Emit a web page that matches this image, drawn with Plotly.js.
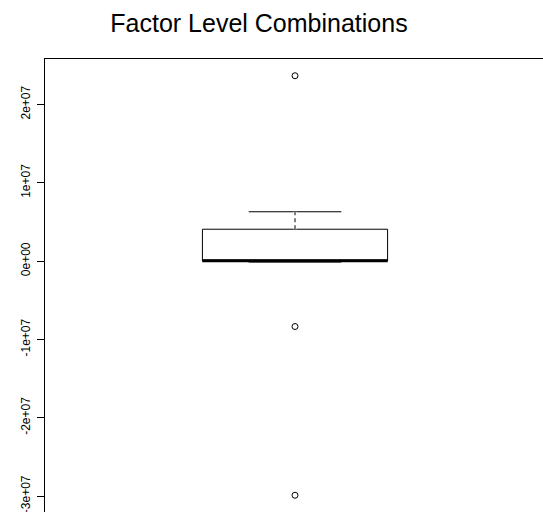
<!DOCTYPE html>
<html>
<head>
<meta charset="utf-8">
<script src="https://cdn.plot.ly/plotly-3.0.1.min.js"></script>
<style>
html, body { margin: 0; padding: 0; overflow: hidden; background: #fff; }
#chart { width: 600px; height: 530px; }
</style>
</head>
<body>
<div id="chart"></div>
<script>
// Data
const boxPosition = [1];
const q1 = [0];
const median = [5e4];
const q3 = [4.07e6];
const lowerFence = [-1.2e5];
const upperFence = [6.30e6];
const outliers = [2.366e7, -8.35e6, -2.989e7];
const tickValues = [-3e7, -2e7, -1e7, 0, 1e7, 2e7];
const tickLabels = ["-3e+07", "-2e+07", "-1e+07", "0e+00", "1e+07", "2e+07"];
const chartTitle = "Factor Level Combinations";

const boxWidth = 0.4;
const font = "Liberation Sans, Arial, Helvetica, sans-serif";

const traces = [
  {
    type: "box",
    x: boxPosition,
    q1: q1, median: median, q3: q3,
    lowerfence: lowerFence, upperfence: upperFence,
    width: boxWidth,
    whiskerwidth: 0.5,
    boxpoints: false,
    fillcolor: "rgba(255,255,255,0)",
    line: { color: "#000", width: 1 },
    hoverinfo: "skip",
    showlegend: false
  },
  {
    type: "scatter",
    mode: "markers",
    x: outliers.map(() => boxPosition[0]),
    y: outliers,
    marker: { symbol: "circle-open", size: 6, color: "#000", line: { width: 1, color: "#000" } },
    hoverinfo: "skip",
    showlegend: false
  }
];

const c = boxPosition[0];
const shapes = [
  // mask the solid upper whisker, then draw it dashed
  { type: "line", xref: "x", yref: "y", x0: c, x1: c, y0: q3[0], y1: upperFence[0],
    line: { color: "#fff", width: 3 }, layer: "above" },
  { type: "line", xref: "x", yref: "y", x0: c, x1: c, y0: q3[0], y1: upperFence[0],
    line: { color: "#000", width: 1, dash: "4px,3px" }, layer: "above" },
  // thick median
  { type: "line", xref: "x", yref: "y", x0: c - boxWidth / 2, x1: c + boxWidth / 2, y0: median[0], y1: median[0],
    line: { color: "#000", width: 3 }, layer: "above" }
];

const layout = {
  width: 600,
  height: 530,
  margin: { l: 45, r: 55, t: 59, b: 18, pad: 0 },
  paper_bgcolor: "#fff",
  plot_bgcolor: "#fff",
  font: { family: font, size: 12, color: "#000" },
  title: {
    text: chartTitle,
    font: { family: font, size: 25, color: "#000" },
    xref: "container", x: 259 / 600, xanchor: "center",
    yref: "container", y: 1 - 23 / 530, yanchor: "middle"
  },
  xaxis: {
    range: [0.46, 1.54],
    showgrid: false, zeroline: false,
    showticklabels: false, ticks: "",
    showline: true, mirror: true, linecolor: "#000", linewidth: 1
  },
  yaxis: {
    range: [-3.203e7, 2.58e7],
    tickmode: "array",
    tickvals: tickValues,
    ticktext: tickLabels,
    tickangle: -90,
    ticks: "outside", ticklen: 7, tickwidth: 1, tickcolor: "#000",
    ticklabelstandoff: 2,
    tickfont: { family: font, size: 12, color: "#000" },
    showgrid: false, zeroline: false,
    showline: true, mirror: true, linecolor: "#000", linewidth: 1
  },
  shapes: shapes,
  showlegend: false
};

Plotly.newPlot("chart", traces, layout, { staticPlot: true, displayModeBar: false });
</script>
</body>
</html>
